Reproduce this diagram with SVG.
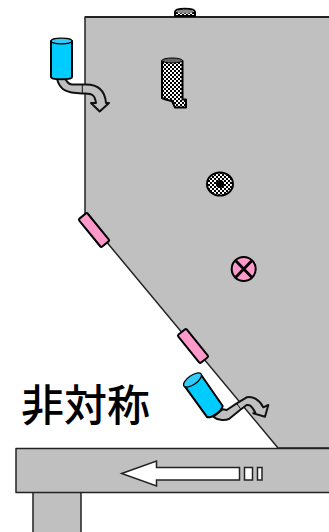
<svg xmlns="http://www.w3.org/2000/svg" width="329" height="532" viewBox="0 0 329 532">
<style>
.g{fill:#c0c0c0;stroke:#222;stroke-width:1.5;stroke-linejoin:round}
.p{fill:#ff99cc;stroke:#000;stroke-width:2;stroke-linejoin:round}
.b{fill:#00ccff;stroke:#000;stroke-width:2;stroke-linejoin:round}
.cap{fill:#33ccff;stroke:#000;stroke-width:1.2}
.pipe{fill:#c0c0c0;stroke:#111;stroke-width:2;stroke-linejoin:round}
.m{fill:url(#mesh);stroke:#000;stroke-width:2;stroke-linejoin:round}
.w{fill:#fff;stroke:#222;stroke-width:1.5}
</style>
<defs>
<pattern id="mesh" width="4" height="4" patternUnits="userSpaceOnUse">
<rect width="4" height="4" fill="#fff"/>
<rect width="2" height="2" fill="#000"/>
<rect x="2" y="2" width="2" height="2" fill="#000"/>
</pattern>
</defs>
<g id="body"><path class="g" d="M85 17H330V448H278L85 216Z"/><path d="M85 17H330" stroke="#222" stroke-width="2"/></g>
<g id="table"><path class="g" d="M33 492.700V533H81V492.700"/><rect class="g" x="16" y="448.500" width="314" height="44"/></g>
<g id="flow-arrow">
<path class="w" d="M121.700 473.500L156.500 461V467.500H239.500V480H156.500V486Z"/>
<rect class="w" x="244.500" y="467.500" width="8" height="12.500"/>
<rect class="w" x="257.500" y="467.500" width="4.500" height="12.500"/>
</g>
<g id="knob"><path class="m" d="M175 16V12C175 7.500 195 7.500 195 12V16Z"/><ellipse cx="185" cy="11.500" rx="8.500" ry="2" fill="#888"/></g>
<g id="nozzle-top">
<path class="pipe" d="M57 79C60 90 66 93 82 93.500L85 93.500C93 93.500 95 96 96 103H91L99.700 111.500L109 103H106C105 90 97 84.500 86 84.500H72C68 84.500 68 82 65 79Z"/>
<path d="M82.300 84.500V93.500" stroke="#111" stroke-width="1"/>
<path class="b" d="M51 41V77C51 80 72 80 72 77V41Z"/>
<ellipse class="cap" cx="61.500" cy="41" rx="10.500" ry="2.800"/>
</g>
<g id="mesh-tube">
<path class="m" d="M162 61V98C166 100 170 100.500 172 101L175 107.500H186V99.500L182.500 99.500V61Z"/>
<ellipse cx="172.200" cy="60.500" rx="10.300" ry="2.500" fill="#666" stroke="#000"/>
</g>
<g id="port-mesh"><ellipse class="m" cx="220" cy="184" rx="13" ry="11.500"/><circle cx="220" cy="184" r="4" fill="#000"/></g>
<g id="port-cross">
<circle class="p" cx="243.700" cy="269" r="12"/>
<path d="M236 261L251.500 277M251.500 261L236 277" stroke="#000" stroke-width="2.800"/>
</g>
<g id="pad-upper"><rect class="p" x="76" y="224.500" width="36" height="11" rx="1.500" transform="rotate(50.700 94 230)"/></g>
<g id="pad-lower"><rect class="p" x="175" y="340.500" width="36" height="11" rx="1.500" transform="rotate(51 193 346)"/></g>
<g id="nozzle-bottom">
<path class="pipe" d="M213.300 416.700C217 420 224 421 229 419L240 410L246.700 405C250 404.500 252 406 255.300 412.700L253.300 413.300L265 416.700L268.300 405L263.300 407.300C260 400 253 396 246.700 397.300L236.700 403.300L226.700 410L222.700 409.300Z"/>
<path d="M236.700 403.300L241 409.500" stroke="#111" stroke-width="1"/>
<path class="b" d="M184.300 385.700L207.300 417.300C212 418 221 412 222.700 406L200.700 374.300Z"/>
<ellipse class="cap" cx="192.500" cy="380" rx="10.500" ry="4.500" transform="rotate(-35 192.500 380)"/>
</g>
<text id="label" x="21" y="421" font-family="'Noto Sans CJK JP','Noto Sans CJK SC',sans-serif" font-size="43" font-weight="500" fill="#000">非対称</text>
</svg>
